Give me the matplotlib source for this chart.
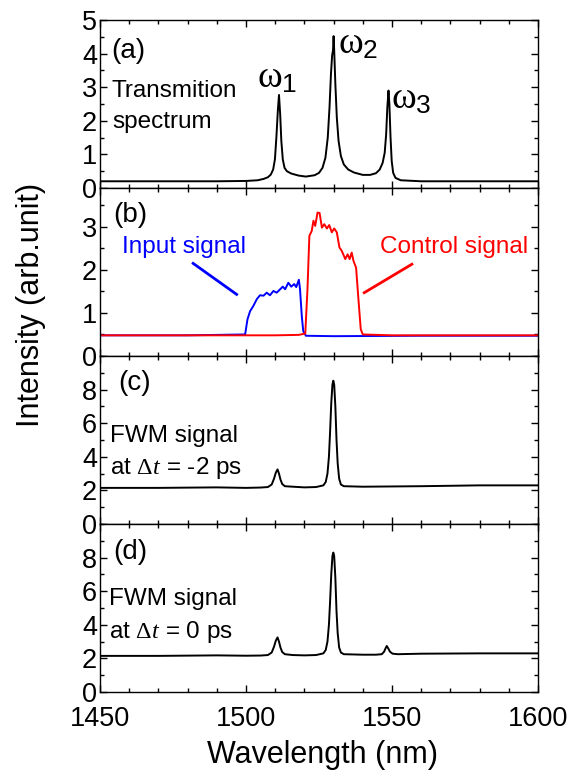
import matplotlib
matplotlib.use("Agg")
import matplotlib.pyplot as plt
from matplotlib.ticker import MultipleLocator

plt.rcParams['font.family'] = ['Liberation Sans', 'DejaVu Sans']
plt.rcParams['mathtext.fontset'] = 'custom'
plt.rcParams['mathtext.rm'] = 'Liberation Serif'
plt.rcParams['mathtext.it'] = 'Liberation Serif:italic'
plt.rcParams['mathtext.sf'] = 'Liberation Sans'

# ---------------- data ----------------
# (a) transmission spectrum
wl_a = [1450, 1470, 1490, 1500, 1504, 1506, 1507.5, 1508.5, 1509.3, 1509.9, 1510.4,
        1510.9, 1511.3, 1511.7, 1512.1, 1512.6, 1513.2, 1514.0, 1515.5, 1518, 1520.5,
        1523.5, 1525.0, 1526.2, 1527.2, 1528.0, 1528.6, 1529.1, 1529.5, 1529.8, 1530.0,
        1530.2, 1530.6, 1531.1, 1531.7, 1532.5, 1533.5, 1535, 1537, 1540, 1542.5,
        1544.5, 1545.8, 1546.8, 1547.5, 1548.0, 1548.4, 1548.8, 1549.1, 1549.5, 1549.9,
        1550.4, 1551.2, 1553, 1560, 1575, 1590, 1600]
int_a = [0.20, 0.20, 0.20, 0.21, 0.23, 0.27, 0.32, 0.40, 0.55, 0.85, 1.50,
         2.30, 2.77, 2.20, 1.40, 0.85, 0.60, 0.50, 0.43, 0.37, 0.34,
         0.38, 0.45, 0.60, 0.90, 1.50, 2.40, 3.40, 3.95, 4.10, 4.52,
         4.10, 3.10, 2.10, 1.40, 0.95, 0.70, 0.55, 0.46, 0.39, 0.39,
         0.44, 0.55, 0.75, 1.05, 1.60, 2.40, 2.90, 2.50, 1.50, 0.80,
         0.45, 0.30, 0.23, 0.20, 0.20, 0.20, 0.20]

# (b) input signal (blue)
wl_in = [1450, 1480, 1499.7, 1500.5, 1501.4, 1502.5, 1503.7, 1504.8, 1506.0, 1507.1,
         1508.2, 1509.4, 1510.5, 1511.7, 1512.6, 1513.4, 1514.5, 1515.5, 1516.5, 1517.2,
         1518.1, 1518.5, 1519.1, 1519.6, 1520.5, 1530, 1560, 1600]
int_in = [0.48, 0.48, 0.50, 0.85, 1.04, 1.16, 1.32, 1.41, 1.40, 1.47,
          1.41, 1.51, 1.47, 1.55, 1.61, 1.55, 1.70, 1.61, 1.67, 1.60,
          1.77, 1.55, 0.93, 0.58, 0.47, 0.46, 0.47, 0.47]

# (b) control signal (red)
wl_ctl = [1450, 1490, 1510, 1518, 1520.3, 1521.05, 1521.7, 1522.5, 1523.1, 1523.7,
          1524.5, 1525.2, 1526.0, 1526.8, 1527.7, 1528.5, 1529.4, 1530.2, 1531.1, 1532.0,
          1532.8, 1534.0, 1534.8, 1535.5, 1536.2, 1536.8, 1537.7, 1538.5, 1539.3, 1540.0,
          1550, 1600]
int_ctl = [0.48, 0.48, 0.48, 0.49, 0.52, 1.55, 2.79, 2.90, 3.14, 3.02,
           3.33, 3.32, 2.98, 3.06, 2.96, 3.04, 2.87, 2.96, 2.87, 2.52,
           2.44, 2.25, 2.36, 2.25, 2.40, 2.21, 2.05, 1.32, 0.62, 0.50,
           0.48, 0.48]

# (c) FWM signal at dt = -2 ps
wl_c = [1450, 1470, 1490, 1500, 1505, 1507.5, 1508.8, 1509.6, 1510.2, 1510.8, 1511.3,
        1511.8, 1512.4, 1513.3, 1516, 1520, 1524, 1526.5, 1527.3, 1527.9, 1528.4,
        1528.8, 1529.2, 1529.6, 1529.9, 1530.2, 1530.6, 1531.0, 1531.4, 1531.9, 1532.5,
        1533.5, 1540, 1560, 1580, 1600]
int_c = [2.15, 2.15, 2.18, 2.15, 2.17, 2.20, 2.35, 2.70, 3.05, 3.25, 3.00,
         2.65, 2.38, 2.25, 2.22, 2.18, 2.20, 2.30, 2.50, 3.00, 4.00,
         5.50, 7.20, 8.30, 8.53, 8.30, 7.00, 5.00, 3.60, 2.70, 2.35,
         2.25, 2.22, 2.25, 2.30, 2.30]

# (d) FWM signal at dt = 0 ps
wl_d = [1450, 1470, 1490, 1500, 1505, 1507.5, 1508.8, 1509.6, 1510.2, 1510.8, 1511.3,
        1511.8, 1512.4, 1513.3, 1516, 1520, 1524, 1526.5, 1527.3, 1527.9, 1528.4,
        1528.8, 1529.2, 1529.6, 1529.9, 1530.2, 1530.6, 1531.0, 1531.4, 1531.9, 1532.5,
        1533.5, 1540, 1544.5, 1546.5, 1547.3, 1547.8, 1548.2, 1548.7, 1549.3, 1550.2,
        1552, 1560, 1580, 1600]
int_d = [2.15, 2.15, 2.18, 2.16, 2.17, 2.20, 2.35, 2.70, 3.05, 3.25, 3.00,
         2.65, 2.38, 2.25, 2.20, 2.18, 2.20, 2.30, 2.50, 3.00, 4.00,
         5.40, 7.00, 8.10, 8.30, 8.10, 6.80, 4.80, 3.50, 2.65, 2.35,
         2.25, 2.22, 2.22, 2.25, 2.40, 2.60, 2.74, 2.60, 2.40, 2.28,
         2.25, 2.28, 2.30, 2.30]

# ---------------- figure ----------------
fig = plt.figure(figsize=(5.74, 7.76), dpi=100)
L, W = 100 / 574, 438 / 574
H = 168 / 776
tops = [20, 188, 356, 524]
axes = []
for t in tops:
    ax = fig.add_axes([L, 1 - (t + 168) / 776, W, H])
    axes.append(ax)

ax_a, ax_b, ax_c, ax_d = axes
lw = 1.4
ax_a.plot(wl_a, int_a, color='black', lw=lw)
ax_b.plot(wl_in, int_in, color='blue', lw=lw)
ax_b.plot(wl_ctl, int_ctl, color='red', lw=lw)
ax_c.plot(wl_c, int_c, color='black', lw=lw)
ax_d.plot(wl_d, int_d, color='black', lw=lw)

ylims = [(0, 5), (0, 3.9), (0, 10), (0, 10)]
ymin = [0.5, 0.5, 1, 1]
yticks = [[0, 1, 2, 3, 4, 5], [0, 1, 2, 3], [0, 2, 4, 6, 8], [0, 2, 4, 6, 8]]
for ax, yl, mn, yt in zip(axes, ylims, ymin, yticks):
    ax.set_xlim(1450, 1600)
    ax.set_ylim(*yl)
    ax.set_yticks(yt)
    ax.yaxis.set_minor_locator(MultipleLocator(mn))
    ax.xaxis.set_major_locator(MultipleLocator(50))
    ax.xaxis.set_minor_locator(MultipleLocator(10))
    ax.tick_params(which='both', direction='in', top=True, right=True,
                   width=1.0, labelsize=19.5)
    ax.tick_params(which='major', length=5)
    ax.tick_params(which='minor', length=3)
    ax.tick_params(axis='y', pad=2)
    ax.tick_params(axis='x', pad=10)
    for s in ax.spines.values():
        s.set_linewidth(1.0)
    if ax is not ax_d:
        ax.tick_params(axis='x', labelbottom=False)

# panel labels and annotations
fs = 17.5
pfs = 20
ax_a.text(1454, 4.08, '(a)', fontsize=pfs, va='center', ha='left')
ax_a.text(1454.1, 2.7, 'Transmition', fontsize=fs, va='baseline', ha='left')
ax_a.text(1454.1, 1.79, 'spectrum', fontsize=fs, va='baseline', ha='left')
ax_a.text(1503.9, 2.98, r'$\mathrm{\omega}_{\mathsf{1}}$', fontsize=27, va='baseline', ha='left')
ax_a.text(1531.4, 4.0, r'$\mathrm{\omega}_{\mathsf{2}}$', fontsize=27, va='baseline', ha='left')
ax_a.text(1549.8, 2.35, r'$\mathrm{\omega}_{\mathsf{3}}$', fontsize=27, va='baseline', ha='left')

ax_b.text(1454.6, 3.27, '(b)', fontsize=pfs, va='center', ha='left')
ax_b.text(1457.4, 2.4, 'Input signal', fontsize=fs, color='blue', va='baseline', ha='left')
ax_b.text(1546.0, 2.4, 'Control signal', fontsize=fs, color='red', va='baseline', ha='left')
ax_b.plot([1481.9, 1496.8], [2.15, 1.43], color='blue', lw=2.0)
ax_b.plot([1556.8, 1540.5], [2.13, 1.47], color='red', lw=2.0)

ax_c.text(1456.2, 8.4, '(c)', fontsize=pfs, va='center', ha='left')
ax_c.text(1453.4, 4.9, 'FWM signal', fontsize=fs, va='baseline', ha='left')
ax_c.text(1453.4, 2.96, r'at $\mathrm{\Delta}\mathit{t}$ = -2 ps', fontsize=fs, va='baseline', ha='left')

ax_d.text(1454.5, 8.35, '(d)', fontsize=pfs, va='center', ha='left')
ax_d.text(1453.2, 5.18, 'FWM signal', fontsize=fs, va='baseline', ha='left')
ax_d.text(1453.2, 3.2, r'at $\mathrm{\Delta}\mathit{t}$ = 0 ps', fontsize=fs, va='baseline', ha='left')

fig.text(322.5 / 574, 1 - 755 / 776, 'Wavelength (nm)', fontsize=22, ha='center', va='center')
fig.text(31 / 574, 1 - 305 / 776, 'Intensity (arb.unit)', fontsize=22, ha='center', va='center',
         rotation=90)

fig.savefig('out.png', dpi=100)
